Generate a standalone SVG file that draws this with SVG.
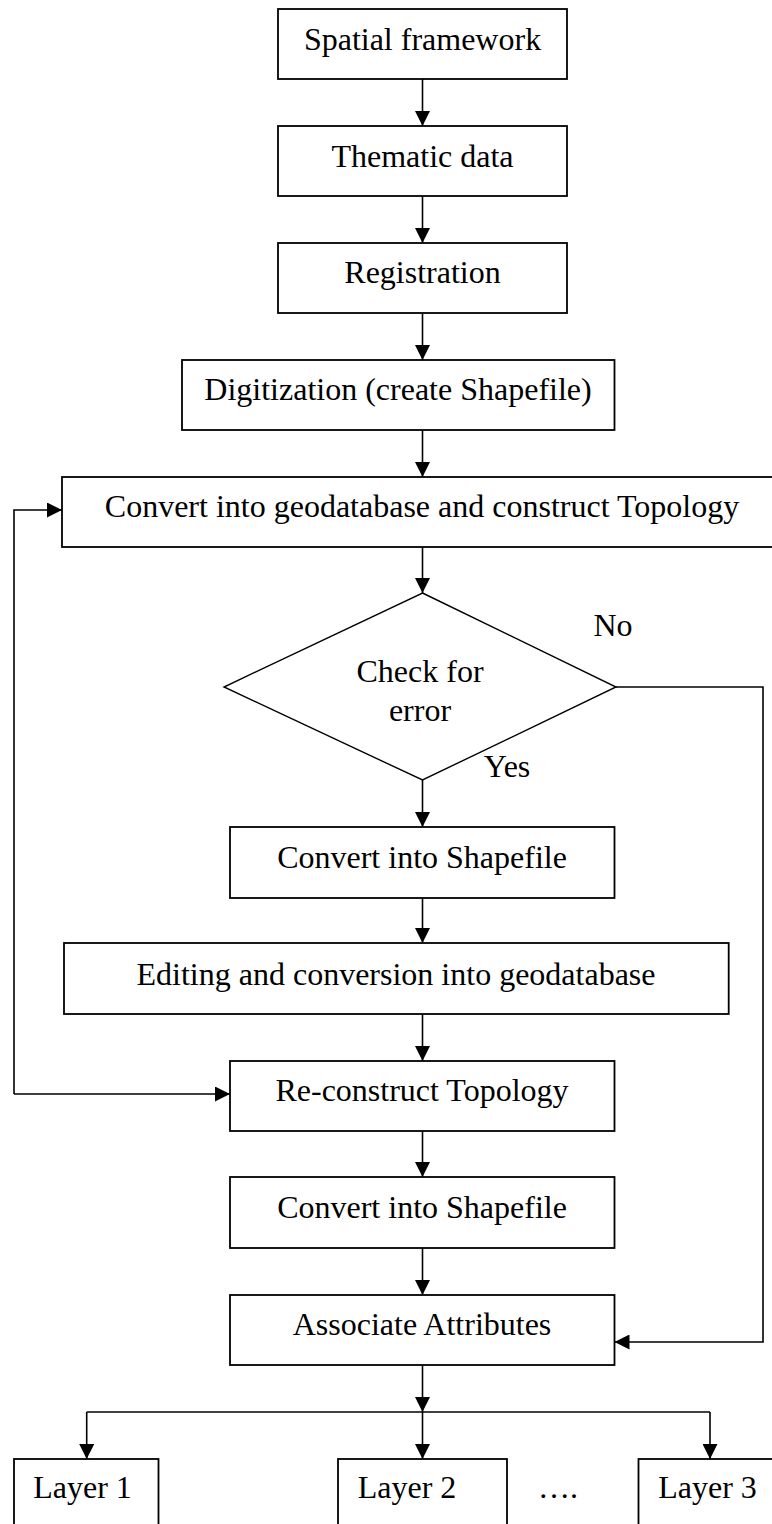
<svg xmlns="http://www.w3.org/2000/svg" width="772" height="1524" viewBox="0 0 772 1524">
<defs>
<marker id="arr" markerUnits="userSpaceOnUse" markerWidth="16" markerHeight="15" refX="15" refY="7.5" orient="auto">
<path d="M0,0 L15,7.5 L0,15 Z" fill="#000"/>
</marker>
<style>
.box{fill:#fff;stroke:#000;stroke-width:1.8}
.dia{fill:#fff;stroke:#000;stroke-width:1.4}
.t{font-family:"Liberation Serif","Times New Roman",serif;font-size:32px;fill:#000;text-anchor:middle}
.c{fill:none;stroke:#000;stroke-width:1.6}
.ca{fill:none;stroke:#000;stroke-width:1.6;marker-end:url(#arr)}
</style>
</defs>
<rect width="772" height="1524" fill="#fff"/>
<g id="connectors">
<line class="ca" x1="422.5" y1="79" x2="422.5" y2="126"/>
<line class="ca" x1="422.5" y1="196" x2="422.5" y2="243"/>
<line class="ca" x1="422.5" y1="313" x2="422.5" y2="360"/>
<line class="ca" x1="422.5" y1="430" x2="422.5" y2="477"/>
<line class="ca" x1="422.5" y1="547" x2="422.5" y2="593"/>
<line class="ca" x1="422.5" y1="780" x2="422.5" y2="827"/>
<line class="ca" x1="422.5" y1="898" x2="422.5" y2="943"/>
<line class="ca" x1="422.5" y1="1014" x2="422.5" y2="1061"/>
<line class="ca" x1="422.5" y1="1131" x2="422.5" y2="1177"/>
<line class="ca" x1="422.5" y1="1248" x2="422.5" y2="1295"/>
<line class="ca" x1="422.5" y1="1365" x2="422.5" y2="1412"/>
<path class="ca" d="M14,1094 L14,510 L62,510"/>
<line class="ca" x1="14" y1="1094" x2="230" y2="1094"/>
<path class="ca" d="M616,687 L763,687 L763,1342 L614.5,1342"/>
<line class="c" x1="86.7" y1="1412" x2="710" y2="1412"/>
<line class="ca" x1="86.7" y1="1412" x2="86.7" y2="1459"/>
<line class="ca" x1="422.5" y1="1412" x2="422.5" y2="1459"/>
<line class="ca" x1="710" y1="1412" x2="710" y2="1459"/>
</g>
<g id="n1"><rect class="box" x="278" y="9" width="289" height="70"/><text class="t" x="422.5" y="50">Spatial framework</text></g>
<g id="n2"><rect class="box" x="278" y="126" width="289" height="70"/><text class="t" x="422.5" y="167">Thematic data</text></g>
<g id="n3"><rect class="box" x="278" y="243" width="289" height="70"/><text class="t" x="422.5" y="283">Registration</text></g>
<g id="n4"><rect class="box" x="182" y="360" width="432.5" height="70"/><text class="t" x="398" y="400">Digitization (create Shapefile)</text></g>
<g id="n5"><rect class="box" x="62" y="477" width="720" height="70"/><text class="t" x="422" y="517">Convert into geodatabase and construct Topology</text></g>
<g id="n6"><polygon class="dia" points="422.5,593 616,687 422.5,780 224,687"/><text class="t" x="420" y="682">Check for</text><text class="t" x="420" y="721">error</text></g>
<g id="lblNo"><text class="t" x="613" y="636">No</text></g>
<g id="lblYes"><text class="t" x="507" y="777">Yes</text></g>
<g id="n7"><rect class="box" x="230" y="827" width="384.5" height="71"/><text class="t" x="422" y="868">Convert into Shapefile</text></g>
<g id="n8"><rect class="box" x="64" y="943" width="664.7" height="71"/><text class="t" x="396" y="985">Editing and conversion into geodatabase</text></g>
<g id="n9"><rect class="box" x="230" y="1061" width="384.5" height="70"/><text class="t" x="422" y="1101">Re-construct Topology</text></g>
<g id="n10"><rect class="box" x="230" y="1177" width="384.5" height="71"/><text class="t" x="422" y="1218">Convert into Shapefile</text></g>
<g id="n11"><rect class="box" x="230" y="1295" width="384.5" height="70"/><text class="t" x="422" y="1335">Associate Attributes</text></g>
<g id="n12"><rect class="box" x="14" y="1459" width="144.5" height="80"/><text class="t" x="82.5" y="1498">Layer 1</text></g>
<g id="n13"><rect class="box" x="338" y="1459" width="169" height="80"/><text class="t" x="407" y="1498">Layer 2</text></g>
<g id="dots"><text class="t" x="558" y="1498">….</text></g>
<g id="n14"><rect class="box" x="638.5" y="1459" width="150" height="80"/><text class="t" x="707.5" y="1498">Layer 3</text></g>
</svg>
